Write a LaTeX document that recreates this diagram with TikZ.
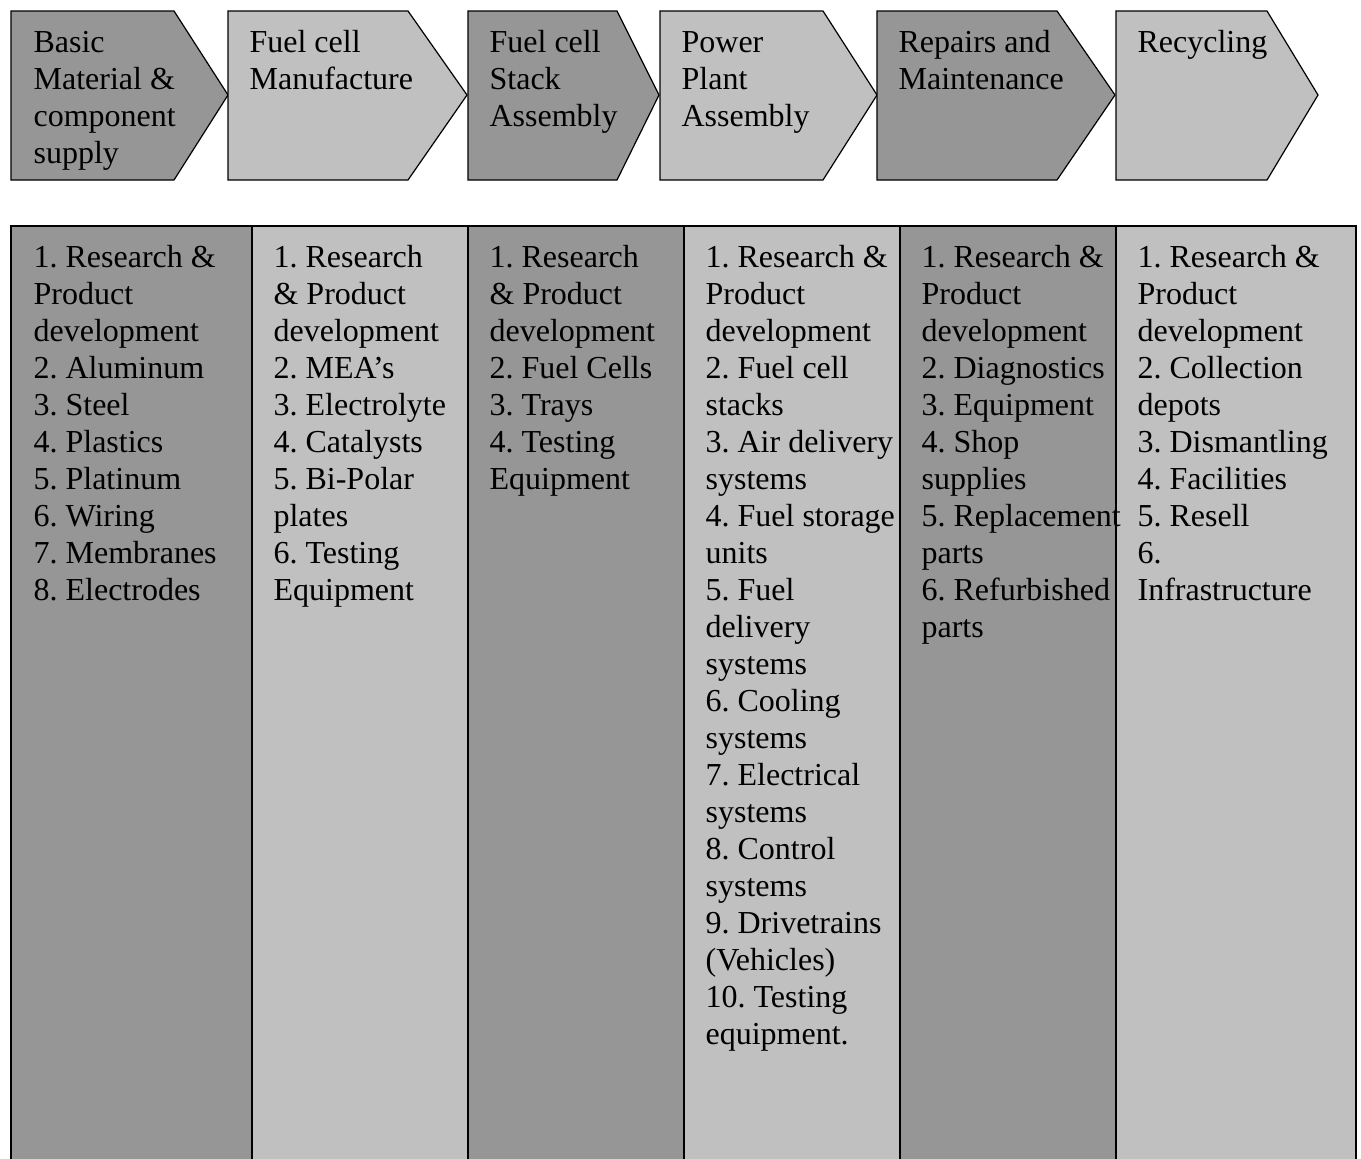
\documentclass[tikz,border=0pt]{standalone}
\usepackage{fontspec}
\setmainfont{Liberation Serif}
\frenchspacing
\definecolor{darkcell}{RGB}{150,150,150}
\definecolor{lightcell}{RGB}{192,192,192}
\begin{document}
\begin{tikzpicture}[x=1pt, y=-1pt, line width=1.2pt,
		txt/.style={anchor=north west, inner sep=0pt, align=left, font=\fontsize{32}{37}\selectfont}]
	\useasboundingbox (0, 0) rectangle (1361, 1159);
	% chevrons
	\filldraw[fill=darkcell] (11, 11) -- (174, 11) -- (228, 95) -- (174, 180) -- (11, 180) -- cycle;
	\filldraw[fill=lightcell] (228, 11) -- (408, 11) -- (467, 95) -- (408, 180) -- (228, 180) -- cycle;
	\filldraw[fill=darkcell] (468, 11) -- (617, 11) -- (659, 95) -- (617, 180) -- (468, 180) -- cycle;
	\filldraw[fill=lightcell] (660, 11) -- (823, 11) -- (877, 95) -- (823, 180) -- (660, 180) -- cycle;
	\filldraw[fill=darkcell] (877, 11) -- (1057, 11) -- (1115, 95) -- (1057, 180) -- (877, 180) -- cycle;
	\filldraw[fill=lightcell] (1116, 11) -- (1267, 11) -- (1318, 95) -- (1267, 180) -- (1116, 180) -- cycle;
	\node[txt] (basic) at (33, 25.6) {\strut Basic\\Material \&\\component\\supply};
	\node[txt] (manuf) at (249, 25.6) {\strut Fuel cell\\Manufacture};
	\node[txt] (stack) at (489, 25.6) {\strut Fuel cell\\Stack\\Assembly};
	\node[txt] (plant) at (681, 25.6) {\strut Power\\Plant\\Assembly};
	\node[txt] (repair) at (898, 25.6) {\strut Repairs and\\Maintenance};
	\node[txt] (recycle) at (1137, 25.6) {\strut Recycling};
	% columns
	\filldraw[fill=darkcell] (11, 226) rectangle (252, 1170);
	\filldraw[fill=lightcell] (252, 226) rectangle (468, 1170);
	\filldraw[fill=darkcell] (468, 226) rectangle (684, 1170);
	\filldraw[fill=lightcell] (684, 226) rectangle (900, 1170);
	\filldraw[fill=darkcell] (900, 226) rectangle (1116, 1170);
	\filldraw[fill=lightcell] (1116, 226) rectangle (1356, 1170);
	\node[txt] (basiclist) at (33, 240.6) {\strut 1. Research \&\\Product\\development\\2. Aluminum\\3. Steel\\4. Plastics\\5. Platinum\\6. Wiring\\7. Membranes\\8. Electrodes};
	\node[txt] (manuflist) at (273, 240.6) {\strut 1. Research\\\& Product\\development\\2. MEA’s\\3. Electrolyte\\4. Catalysts\\5. Bi-Polar\\plates\\6. Testing\\Equipment};
	\node[txt] (stacklist) at (489, 240.6) {\strut 1. Research\\\& Product\\development\\2. Fuel Cells\\3. Trays\\4. Testing\\Equipment};
	\node[txt] (plantlist) at (705, 240.6) {\strut 1. Research \&\\Product\\development\\2. Fuel cell\\stacks\\3. Air delivery\\systems\\4. Fuel storage\\units\\5. Fuel\\delivery\\systems\\6. Cooling\\systems\\7. Electrical\\systems\\8. Control\\systems\\9. Drivetrains\\(Vehicles)\\10. Testing\\equipment.};
	\node[txt] (repairlist) at (921, 240.6) {\strut 1. Research \&\\Product\\development\\2. Diagnostics\\3. Equipment\\4. Shop\\supplies\\5. Replacement\\parts\\6. Refurbished\\parts};
	\node[txt] (recyclelist) at (1137, 240.6) {\strut 1. Research \&\\Product\\development\\2. Collection\\depots\\3. Dismantling\\4. Facilities\\5. Resell\\6.\\Infrastructure};
\end{tikzpicture}
\end{document}
